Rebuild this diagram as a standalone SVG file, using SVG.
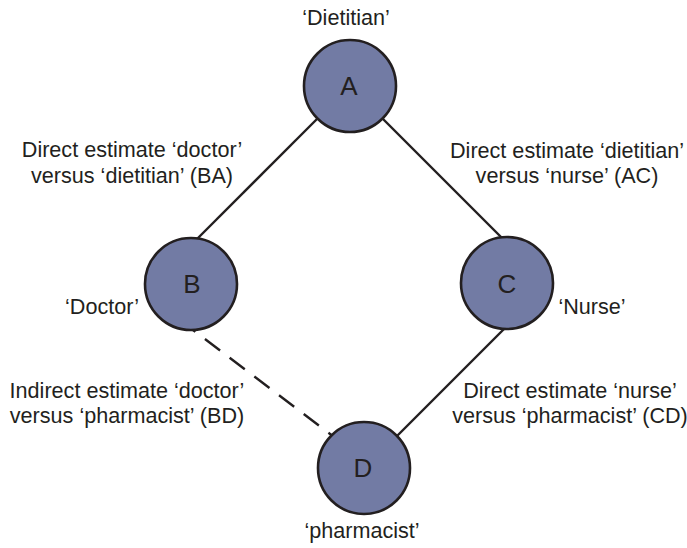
<svg xmlns="http://www.w3.org/2000/svg" width="687" height="548" viewBox="0 0 687 548">
<style>
  text { font-family: "Liberation Sans", Arial, sans-serif; fill: #231F20; }
  .lbl { font-size: 21.6px; text-anchor: middle; }
  .letter { font-size: 26px; text-anchor: middle; }
  .node { fill: #727BA4; stroke: #231F20; stroke-width: 2.6; }
  .edge { stroke: #231F20; stroke-width: 2.4; fill: none; }
  .dash { stroke-dasharray: 19 12; stroke-dashoffset: 16; }
</style>
<rect width="687" height="548" fill="#ffffff"/>
<g id="connectors">
  <line class="edge" x1="318" y1="118" x2="196" y2="240"/>
  <line class="edge" x1="382" y1="118" x2="504" y2="240"/>
  <line class="edge" x1="506" y1="327" x2="396" y2="437"/>
  <line class="edge dash" x1="193" y1="330" x2="334" y2="437"/>
</g>
<g id="node-A">
  <circle class="node" cx="350" cy="86" r="46"/>
  <text class="letter" x="349" y="95">A</text>
  <text class="lbl" x="346" y="25">‘Dietitian’</text>
</g>
<g id="node-B">
  <circle class="node" cx="191" cy="284" r="46"/>
  <text class="letter" x="192" y="293">B</text>
  <text class="lbl" x="102" y="314">‘Doctor’</text>
</g>
<g id="node-C">
  <circle class="node" cx="507" cy="283" r="46"/>
  <text class="letter" x="507" y="293">C</text>
  <text class="lbl" x="592" y="314">‘Nurse’</text>
</g>
<g id="node-D">
  <circle class="node" cx="364" cy="468" r="46"/>
  <text class="letter" x="363" y="477">D</text>
  <text class="lbl" x="362" y="538">‘pharmacist’</text>
</g>
<g id="edge-labels">
  <text class="lbl" x="132" y="157">Direct estimate ‘doctor’</text>
  <text class="lbl" x="132" y="183">versus ‘dietitian’ (BA)</text>
  <text class="lbl" x="567" y="158">Direct estimate ‘dietitian’</text>
  <text class="lbl" x="567" y="183">versus ‘nurse’ (AC)</text>
  <text class="lbl" x="127" y="398">Indirect estimate ‘doctor’</text>
  <text class="lbl" x="127" y="423">versus ‘pharmacist’ (BD)</text>
  <text class="lbl" x="570" y="398">Direct estimate ‘nurse’</text>
  <text class="lbl" x="570" y="423">versus ‘pharmacist’ (CD)</text>
</g>
</svg>
